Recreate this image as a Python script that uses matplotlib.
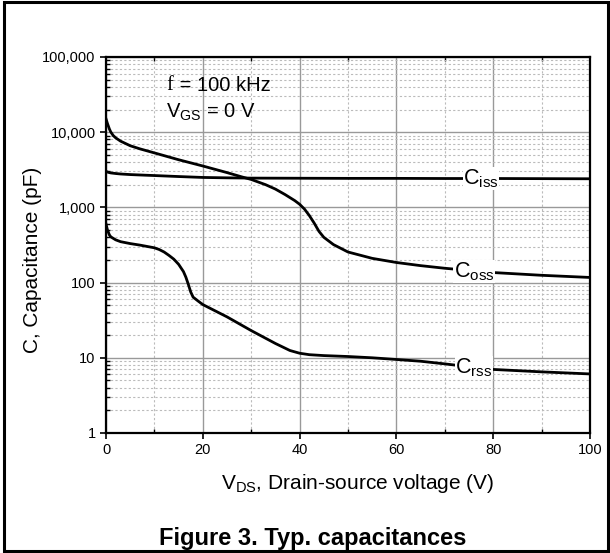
import matplotlib
matplotlib.use('agg')

import matplotlib.pyplot as plt
import matplotlib.ticker as ticker
from matplotlib.patches import Rectangle

plt.rcParams['font.family'] = ['Liberation Sans', 'DejaVu Sans']
plt.rcParams['mathtext.fontset'] = 'custom'
plt.rcParams['mathtext.rm'] = 'Liberation Sans'
plt.rcParams['mathtext.it'] = 'Liberation Sans'

# capacitance curves, V_DS in volts, C in pF
vds_iss = [0, 0.5, 1, 2, 3, 5, 8, 10, 15, 20, 25, 30, 40, 50, 60, 70, 80, 90, 100]
ciss = [3000, 2920, 2870, 2820, 2780, 2730, 2680, 2650, 2570, 2500, 2470, 2450, 2440, 2430, 2430, 2420, 2420, 2410, 2400]

vds_oss = [0, 0.3, 0.7, 1, 1.5, 2, 3, 5, 7, 10, 15, 20, 25, 28, 30, 33, 35, 37, 39, 40, 41, 42, 43, 44,
           45, 47, 50, 55, 60, 65, 70, 80, 90, 100]
coss = [15000, 13000, 11000, 10000, 9000, 8400, 7600, 6600, 6000, 5300, 4300, 3550, 2900, 2550, 2350, 2000, 1750,
        1480, 1230, 1100, 950, 780, 620, 480, 400, 320, 255, 210, 185, 168, 155, 136, 125, 117]

vds_rss = [0, 0.3, 0.7, 1, 2, 3, 5, 7, 10, 11, 12, 13, 14, 15, 16, 16.5, 17, 17.5, 18, 19, 20, 25, 30, 35,
           38, 40, 42, 45, 50, 55, 60, 65, 70, 75, 80, 90, 100]
crss = [600, 500, 430, 405, 370, 350, 330, 315, 290, 275, 255, 230, 205, 175, 140, 118, 95, 75, 64, 57, 51, 35, 23, 15.5,
        12.5, 11.5, 11, 10.7, 10.4, 10.0, 9.5, 9.0, 8.3, 7.6, 7.0, 6.5, 6.1]

curve_labels = ['C$_{\\rm iss}$', 'C$_{\\rm oss}$', 'C$_{\\rm rss}$']
label_vds = [77.5, 76, 76]
label_c = [2420, 140, 7.4]

fig = plt.figure(figsize=(6.1, 5.53), dpi=100)
ax = fig.add_axes([0.1738, 0.217, 0.7934, 0.680])

ax.set_yscale('log')
ax.set_xlim(0, 100)
ax.set_ylim(1, 100000)

ax.plot(vds_iss, ciss, color='black', lw=2.0, zorder=3)
ax.plot(vds_oss, coss, color='black', lw=2.0, zorder=3)
ax.plot(vds_rss, crss, color='black', lw=2.0, zorder=3)

for txt, x, y in zip(curve_labels, label_vds, label_c):
    ax.text(x, y, txt, fontsize=15.5, ha='center', va='center', zorder=4,
            bbox=dict(boxstyle='square,pad=0.02', fc='white', ec='none'))

ax.text(12.4, 42000, 'f', fontsize=14.5, family='Liberation Serif', va='center', ha='left')
ax.text(14.0, 42000, ' = 100 kHz', fontsize=14.5, va='center', ha='left')
ax.text(12.4, 18500, 'V$_{\\rm GS}$ = 0 V', fontsize=14.5, va='center', ha='left')

# grid
ax.xaxis.set_major_locator(ticker.MultipleLocator(20))
ax.xaxis.set_minor_locator(ticker.MultipleLocator(10))
ax.yaxis.set_major_locator(ticker.LogLocator(base=10, numticks=10))
ax.yaxis.set_minor_locator(ticker.LogLocator(base=10, subs=range(2, 10), numticks=20))
ax.yaxis.set_minor_formatter(ticker.NullFormatter())
ax.yaxis.set_major_formatter(ticker.FuncFormatter(lambda v, p: '{:,.0f}'.format(v)))

ax.grid(which='major', color='#999999', lw=1.0, ls='-')
ax.grid(which='minor', color='#bbbbbb', lw=0.8, ls=(0, (2, 2)))
ax.set_axisbelow(True)

# major ticks point out, minor ticks point in (top edge gets the minor ones only)
ax.tick_params(which='major', direction='out', length=4, width=1.2, labelsize=10.5, top=False, right=False)
ax.tick_params(which='minor', direction='in', length=3, width=1.0, top=True, right=False)
for s in ax.spines.values():
    s.set_linewidth(1.6)

ax.set_xlabel('V$_{\\rm DS}$, Drain-source voltage (V)', fontsize=15, va='baseline')
ax.xaxis.set_label_coords(0.52, -0.149)
ax.set_ylabel('C, Capacitance (pF)', fontsize=15, va='center')
ax.yaxis.set_label_coords(-0.152, 0.46)

fig.text(0.513, 0.0145, 'Figure 3. Typ. capacitances', fontsize=17, fontweight='bold', ha='center', va='baseline')

# outer frame
fig.patches.append(Rectangle((0.006, 0.003), 0.990, 0.993, transform=fig.transFigure,
                             fill=False, ec='black', lw=2.2))

plt.savefig('out.png', dpi=100)
